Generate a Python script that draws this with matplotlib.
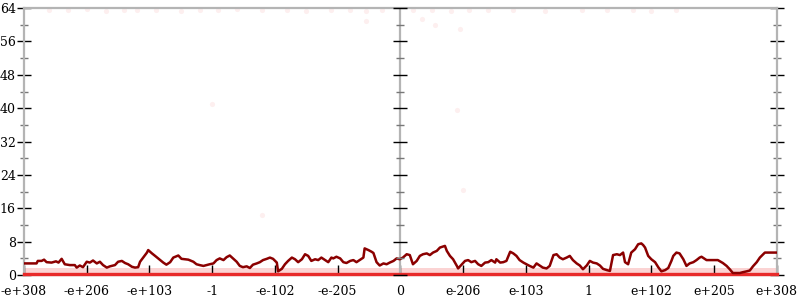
import matplotlib
matplotlib.use("Agg")
import matplotlib.pyplot as plt
import numpy as np

# x positions (one unit per tick), y values of the dark red line
line_x = [-6.00, -5.80, -5.78, -5.72, -5.68, -5.64, -5.56, -5.49, -5.45, -5.40,
          -5.35, -5.27, -5.19, -5.16, -5.11, -5.06, -5.00, -4.95, -4.90, -4.84,
          -4.79, -4.74, -4.68, -4.63, -4.55, -4.50, -4.44, -4.39, -4.34, -4.28,
          -4.23, -4.18, -4.15, -4.10, -4.04, -4.02, -3.96, -3.91, -3.83, -3.78,
          -3.73, -3.67, -3.62, -3.57, -3.54, -3.49, -3.38, -3.30, -3.25, -3.20,
          -3.14, -3.09, -3.04, -2.98, -2.93, -2.88, -2.82, -2.77, -2.72, -2.66,
          -2.61, -2.56, -2.51, -2.45, -2.40, -2.35, -2.29, -2.24, -2.19, -2.13,
          -2.08, -2.03, -1.97, -1.95, -1.89, -1.84, -1.79, -1.73, -1.68, -1.63,
          -1.57, -1.52, -1.47, -1.42, -1.36, -1.31, -1.26, -1.20, -1.15, -1.10,
          -1.07, -1.02, -0.96, -0.91, -0.86, -0.80, -0.75, -0.70, -0.65, -0.59,
          -0.57, -0.51, -0.46, -0.43, -0.38, -0.33, -0.27, -0.22, -0.17, -0.11,
          -0.06, -0.01, 0.04, 0.10, 0.15, 0.20, 0.26, 0.31, 0.36, 0.42,
          0.47, 0.52, 0.58, 0.63, 0.71, 0.74, 0.79, 0.84, 0.90, 0.92,
          0.98, 1.03, 1.08, 1.13, 1.19, 1.24, 1.29, 1.35, 1.40, 1.45,
          1.51, 1.53, 1.59, 1.64, 1.69, 1.75, 1.80, 1.85, 1.90, 1.96,
          2.01, 2.06, 2.12, 2.17, 2.22, 2.27, 2.33, 2.38, 2.44, 2.49,
          2.54, 2.59, 2.65, 2.70, 2.75, 2.81, 2.86, 2.91, 2.97, 3.02,
          3.07, 3.13, 3.18, 3.23, 3.29, 3.34, 3.39, 3.45, 3.50, 3.55,
          3.58, 3.63, 3.68, 3.74, 3.79, 3.84, 3.87, 3.90, 3.95, 4.00,
          4.06, 4.11, 4.16, 4.22, 4.27, 4.32, 4.35, 4.40, 4.45, 4.51,
          4.56, 4.61, 4.67, 4.72, 4.77, 4.80, 4.88, 4.98, 5.06, 5.14,
          5.20, 5.25, 5.30, 5.41, 5.46, 5.52, 5.57, 5.62, 5.68, 5.73,
          5.81, 6.00]
line_y = [2.8, 2.8, 3.4, 3.4, 3.7, 3.1, 3.0, 3.3, 3.0, 3.9,
          2.6, 2.4, 2.4, 1.8, 2.3, 1.9, 3.2, 3.0, 3.5, 2.8,
          3.2, 2.4, 1.8, 2.1, 2.4, 3.2, 3.4, 2.9, 2.6, 2.0,
          1.8, 1.9, 3.2, 4.2, 5.4, 6.0, 5.2, 4.6, 3.6, 3.0,
          2.5, 3.1, 4.2, 4.5, 4.7, 3.9, 3.7, 3.2, 2.6, 2.4,
          2.2, 2.4, 2.6, 2.8, 3.6, 4.0, 3.6, 4.3, 4.7, 3.9,
          3.2, 2.2, 1.9, 2.1, 1.7, 2.5, 2.8, 3.1, 3.6, 3.9,
          4.2, 3.9, 3.0, 0.9, 1.5, 2.6, 3.4, 4.2, 3.8, 3.1,
          3.8, 5.0, 4.6, 3.4, 3.8, 3.6, 4.2, 3.6, 3.1, 4.2,
          4.0, 4.4, 4.0, 3.1, 2.9, 3.4, 3.6, 3.1, 3.6, 4.2,
          6.4, 6.0, 5.6, 5.3, 3.1, 2.3, 2.8, 2.6, 3.0, 3.4,
          4.0, 3.8, 4.2, 5.0, 4.8, 2.6, 3.4, 4.6, 5.0, 5.2,
          4.8, 5.4, 5.8, 6.6, 7.0, 5.8, 4.6, 3.8, 2.2, 1.6,
          2.6, 3.4, 3.6, 3.1, 3.4, 2.6, 2.2, 3.0, 3.1, 3.6,
          3.0, 3.8, 3.0, 3.1, 3.4, 5.6, 5.2, 4.6, 3.6, 3.0,
          2.6, 2.2, 1.8, 2.8, 2.3, 1.8, 1.6, 2.2, 4.8, 5.0,
          4.2, 3.8, 4.2, 4.6, 3.6, 2.8, 2.3, 1.4, 2.3, 3.4,
          3.0, 2.8, 2.3, 1.5, 1.2, 1.0, 4.8, 5.0, 4.8, 5.4,
          3.1, 2.6, 5.4, 6.2, 7.4, 7.6, 7.2, 6.6, 4.6, 3.8,
          3.1, 1.9, 0.9, 1.2, 1.7, 3.4, 4.6, 5.4, 5.2, 3.8,
          2.2, 2.8, 3.1, 3.6, 4.2, 4.4, 3.6, 3.6, 3.6, 2.9,
          2.2, 1.4, 0.5, 0.5, 0.7, 0.9, 1.1, 2.1, 3.1, 4.2,
          5.4, 5.4]

# faint outlier points (mostly saturated at the top)
stray_x = [-5.6, -5.3, -5.0, -4.7, -4.4, -4.2, -3.9, -3.5, -3.2, -2.9,
           -2.6, -2.2, -1.8, -1.5, -1.1, -0.8, -0.55, -0.3, 0.2, 0.5,
           0.8, 1.1, 1.4, 1.8, 2.3, 2.9, 3.3, 3.7, 4.0, 4.4,
           -0.55, 0.35, 0.55, 0.95, -3.0, 0.9, 1.0, -2.2]
stray_y = [63.6, 63.5, 63.7, 63.4, 63.6, 63.5, 63.6, 63.4, 63.6, 63.5,
           63.7, 63.5, 63.6, 63.4, 63.6, 63.5, 63.4, 63.6, 63.5, 63.6,
           63.4, 63.6, 63.5, 63.6, 63.4, 63.6, 63.5, 63.6, 63.4, 63.5,
           61.0, 61.5, 60.0, 59.0, 41.0, 39.5, 20.5, 14.5]

tick_pos = list(range(-6, 7))
tick_labels = ['-e+308', '-e+206', '-e+103', '-1', '-e-102', '-e-205', '0',
               'e-206', 'e-103', '1', 'e+102', 'e+205', 'e+308']
y_major = list(range(0, 65, 8))
y_minor = list(range(4, 64, 8))

plt.rcParams['font.family'] = ['DejaVu Serif']

fig = plt.figure(figsize=(8, 3), dpi=100)
ax = fig.add_axes([0.03, 0.083, 0.941, 0.89])

# dense band of points around zero
ax.axhspan(0, 1.7, facecolor='#fbd3d3', edgecolor='none', zorder=1)
ax.axhline(0.25, color='#e82a2a', lw=2.4, zorder=2.7, clip_on=False)
ax.scatter(stray_x, stray_y, s=14, color='#f08080', alpha=0.12, lw=0, zorder=1)

ax.plot(line_x, line_y, color='#8b0000', lw=1.8, zorder=3)

ax.set_xlim(-6, 6)
ax.set_ylim(0, 64)

for side in ['left', 'right', 'top', 'bottom']:
    ax.spines[side].set_color('#b4b4b4')
    ax.spines[side].set_linewidth(1.6)
ax.axvline(0, color='#b4b4b4', lw=1.6, zorder=2)

ax.set_xticks(tick_pos)
ax.set_xticklabels(tick_labels)
ax.set_yticks(y_major)
ax.set_yticks(y_minor, minor=True)

ax.tick_params(axis='x', direction='in', length=7, width=1, color='black',
               labelsize=9, pad=7)
ax.tick_params(axis='y', which='major', direction='inout', length=10, width=1,
               color='black', labelsize=9, pad=1, right=True)
ax.tick_params(axis='y', which='minor', direction='inout', length=6, width=1,
               color='#777777', right=True)

# tick marks on the centre line
ax.plot([0] * len(y_major), y_major, ls='none', marker='_', ms=10, mew=1,
        color='black', zorder=4, clip_on=False)
ax.plot([0] * len(y_minor), y_minor, ls='none', marker='_', ms=6, mew=1,
        color='#777777', zorder=4, clip_on=False)

fig.savefig('out.png', dpi=100)
